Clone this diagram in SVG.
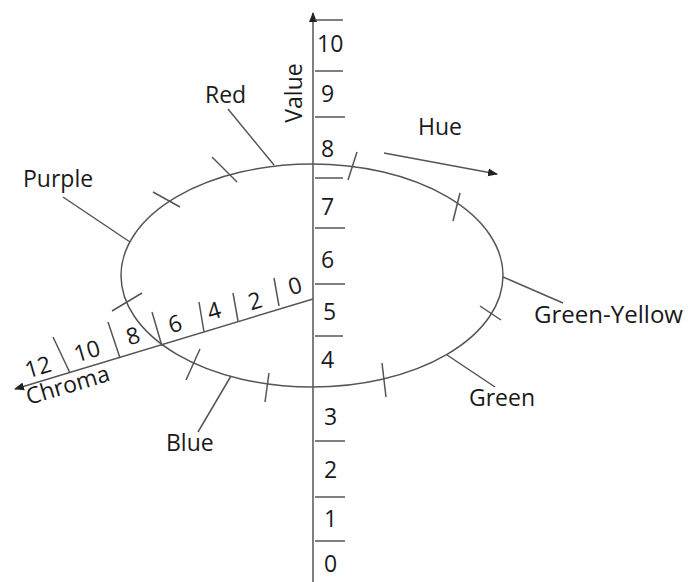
<svg xmlns="http://www.w3.org/2000/svg" width="688" height="582" viewBox="0 0 688 582">
<defs>
<style>
.ln{stroke:#555;stroke-width:1.5;fill:none}
.t{font-family:"Open Sans","Liberation Sans",sans-serif;font-size:23px;fill:#1a1a1a}
.n{font-family:"Open Sans","Liberation Sans",sans-serif;font-size:23px;fill:#1a1a1a}
</style>
<marker id="ah" viewBox="0 0 10 10" refX="9" refY="5" markerWidth="10" markerHeight="10" markerUnits="userSpaceOnUse" orient="auto">
<path d="M0,1 L10,5 L0,9 Z" fill="#222"/>
</marker>
</defs>
<rect width="688" height="582" fill="#fff"/>
<g id="hue-circle">
<ellipse class="ln" cx="312" cy="275.5" rx="191" ry="111.5"/>
<g id="hue-ticks">
<line class="ln" x1="357" y1="152" x2="348" y2="180"/>
<line class="ln" x1="460" y1="193" x2="453" y2="221"/>
<line class="ln" x1="480" y1="306" x2="501" y2="320"/>
<line class="ln" x1="382" y1="363" x2="386" y2="397"/>
<line class="ln" x1="269" y1="373" x2="265" y2="402"/>
<line class="ln" x1="200" y1="349" x2="186" y2="380"/>
<line class="ln" x1="142" y1="293" x2="112" y2="311"/>
<line class="ln" x1="153" y1="192" x2="180" y2="207"/>
<line class="ln" x1="212" y1="157" x2="237" y2="182"/>
</g>
</g>
<g id="value-axis">
<line class="ln" x1="313" y1="582" x2="313" y2="13" marker-end="url(#ah)"/>
<g id="value-ticks">
<line class="ln" x1="315" y1="20" x2="343" y2="20"/>
<line class="ln" x1="315" y1="71" x2="343" y2="71"/>
<line class="ln" x1="315" y1="117" x2="345" y2="117"/>
<line class="ln" x1="315" y1="178" x2="343" y2="178"/>
<line class="ln" x1="315" y1="228" x2="345" y2="228"/>
<line class="ln" x1="315" y1="284" x2="345" y2="284"/>
<line class="ln" x1="315" y1="336" x2="343" y2="336"/>
<line class="ln" x1="315" y1="441" x2="345" y2="441"/>
<line class="ln" x1="315" y1="497" x2="345" y2="497"/>
<line class="ln" x1="315" y1="541" x2="345" y2="541"/>
</g>
<g id="value-labels" class="n">
<text x="317" y="52">10</text>
<text x="321" y="102">9</text>
<text x="321" y="157">8</text>
<text x="321" y="215">7</text>
<text x="321" y="268">6</text>
<text x="323" y="320">5</text>
<text x="321" y="368">4</text>
<text x="324" y="425">3</text>
<text x="324" y="478">2</text>
<text x="324" y="527">1</text>
<text x="324" y="572">0</text>
</g>
<text class="t" x="0" y="0" text-anchor="middle" transform="translate(302,93) rotate(-90)">Value</text>
</g>
<g id="chroma-axis">
<line class="ln" x1="313" y1="299" x2="15" y2="389" marker-end="url(#ah)"/>
<g id="chroma-ticks">
<line class="ln" x1="279" y1="306" x2="274" y2="278"/>
<line class="ln" x1="238" y1="321" x2="233" y2="293"/>
<line class="ln" x1="204" y1="332" x2="199" y2="302"/>
<line class="ln" x1="162" y1="346" x2="152" y2="312"/>
<line class="ln" x1="120" y1="358" x2="108" y2="322"/>
<line class="ln" x1="70" y1="373" x2="53" y2="337"/>
</g>
<g id="chroma-labels" class="n" text-anchor="middle">
<text transform="translate(295,286) rotate(-16.6)" y="8">0</text>
<text transform="translate(255,301) rotate(-16.6)" y="8">2</text>
<text transform="translate(214,311) rotate(-16.6)" y="8">4</text>
<text transform="translate(175,324) rotate(-16.6)" y="8">6</text>
<text transform="translate(133,336) rotate(-16.6)" y="8">8</text>
<text transform="translate(87,351) rotate(-16.6)" y="8">10</text>
<text transform="translate(38,367) rotate(-16.6)" y="8">12</text>
</g>
<text class="t" text-anchor="middle" transform="translate(68,386) rotate(-16.6)" y="7">Chroma</text>
</g>
<g id="hue-arrow">
<line class="ln" x1="384" y1="153" x2="497" y2="174" marker-end="url(#ah)"/>
<text class="t" x="418" y="135">Hue</text>
</g>
<g id="red">
<line class="ln" x1="228" y1="109" x2="274" y2="165"/>
<text class="t" x="205" y="103">Red</text>
</g>
<g id="purple">
<line class="ln" x1="63" y1="197" x2="130" y2="242"/>
<text class="t" x="23" y="187">Purple</text>
</g>
<g id="green-yellow">
<line class="ln" x1="503" y1="277" x2="563" y2="303"/>
<text class="t" x="534" y="323" textLength="149" lengthAdjust="spacingAndGlyphs">Green-Yellow</text>
</g>
<g id="green">
<line class="ln" x1="447" y1="355" x2="495" y2="387"/>
<text class="t" x="469" y="406">Green</text>
</g>
<g id="blue">
<line class="ln" x1="198" y1="432" x2="231" y2="376"/>
<text class="t" x="166" y="451">Blue</text>
</g>
</svg>
